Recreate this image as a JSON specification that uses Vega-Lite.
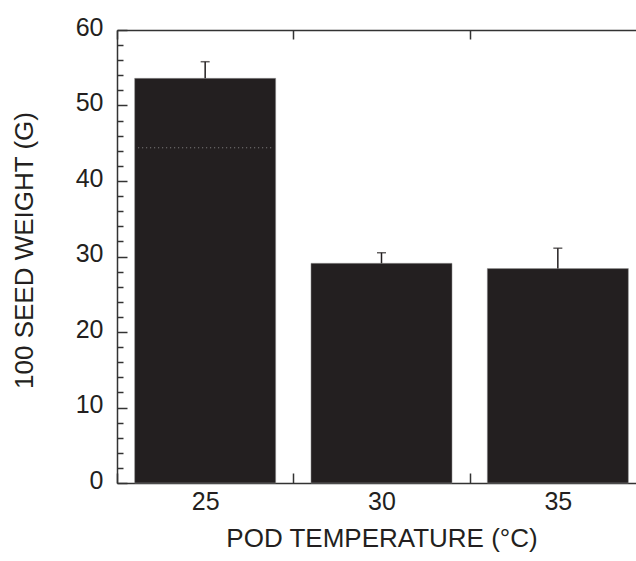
{
  "$schema": "https://vega.github.io/schema/vega-lite/v6.json",
  "autosize": {"type": "none"},
  "padding": {"left": 117, "top": 30, "right": 0, "bottom": 78},
  "width": 529,
  "height": 453,
  "background": "white",
  "config": {
    "view": {"stroke": null},
    "font": "Liberation Sans",
    "axis": {
      "domainColor": "#333333",
      "domainWidth": 1.5,
      "tickColor": "#333333",
      "tickWidth": 1.5,
      "labelFont": "Liberation Sans",
      "titleFont": "Liberation Sans",
      "labelFontSize": 25,
      "titleFontSize": 26,
      "labelColor": "#231f20",
      "titleColor": "#231f20",
      "titleFontWeight": "normal",
      "grid": false
    }
  },
  "data": {
    "values": [
      {"temp": "25", "weight": 53.6, "upper": 55.8},
      {"temp": "30", "weight": 29.1, "upper": 30.5},
      {"temp": "35", "weight": 28.4, "upper": 31.1}
    ]
  },
  "resolve": {"axis": {"x": "independent", "y": "independent"}},
  "layer": [
    {
      "mark": {"type": "bar", "color": "#231f20", "stroke": "#9a9a9a", "strokeWidth": 0.5, "width": {"band": 0.8}},
      "encoding": {
        "x": {
          "field": "temp",
          "type": "nominal",
          "scale": {"paddingInner": 0, "paddingOuter": 0},
          "axis": {
            "orient": "bottom",
            "title": "POD TEMPERATURE (°C)",
            "labelAngle": 0,
            "tickBand": "extent",
            "tickSize": -10,
            "labelPadding": 16,
            "titlePadding": 11
          }
        },
        "y": {
          "field": "weight",
          "type": "quantitative",
          "scale": {"domain": [0, 60], "nice": false},
          "axis": {
            "orient": "left",
            "title": "100 SEED WEIGHT (G)",
            "values": [0, 10, 20, 30, 40, 50, 60],
            "tickSize": -10,
            "labelPadding": 24,
            "labelOffset": -3,
            "titleX": -80,
            "titleY": 220
          }
        }
      }
    },
    {
      "mark": {"type": "rule", "color": "#231f20", "strokeWidth": 1.5},
      "encoding": {
        "x": {
          "field": "temp",
          "type": "nominal",
          "axis": {
            "orient": "top",
            "title": null,
            "labels": false,
            "tickBand": "extent",
            "tickSize": -9
          }
        },
        "y": {
          "field": "weight",
          "type": "quantitative",
          "axis": {
            "orient": "left",
            "title": null,
            "labels": false,
            "domain": false,
            "values": [2, 4, 6, 8, 12, 14, 16, 18, 22, 24, 26, 28, 32, 34, 36, 38, 42, 44, 46, 48, 52, 54, 56, 58],
            "tickSize": -6
          }
        },
        "y2": {"field": "upper"}
      }
    },
    {
      "mark": {"type": "tick", "color": "#231f20", "thickness": 1.5, "size": 9},
      "encoding": {
        "x": {"field": "temp", "type": "nominal", "axis": null},
        "y": {"field": "upper", "type": "quantitative", "axis": null}
      }
    },
    {
      "transform": [{"filter": "datum.temp === '25'"}],
      "mark": {"type": "rule", "color": "#8a8a8a", "strokeWidth": 1, "strokeDash": [1, 3]},
      "encoding": {
        "x": {"field": "temp", "type": "nominal", "bandPosition": 0.12, "axis": null},
        "x2": {"field": "temp", "bandPosition": 0.885},
        "y": {"datum": 44.4, "type": "quantitative", "axis": null}
      }
    }
  ]
}
